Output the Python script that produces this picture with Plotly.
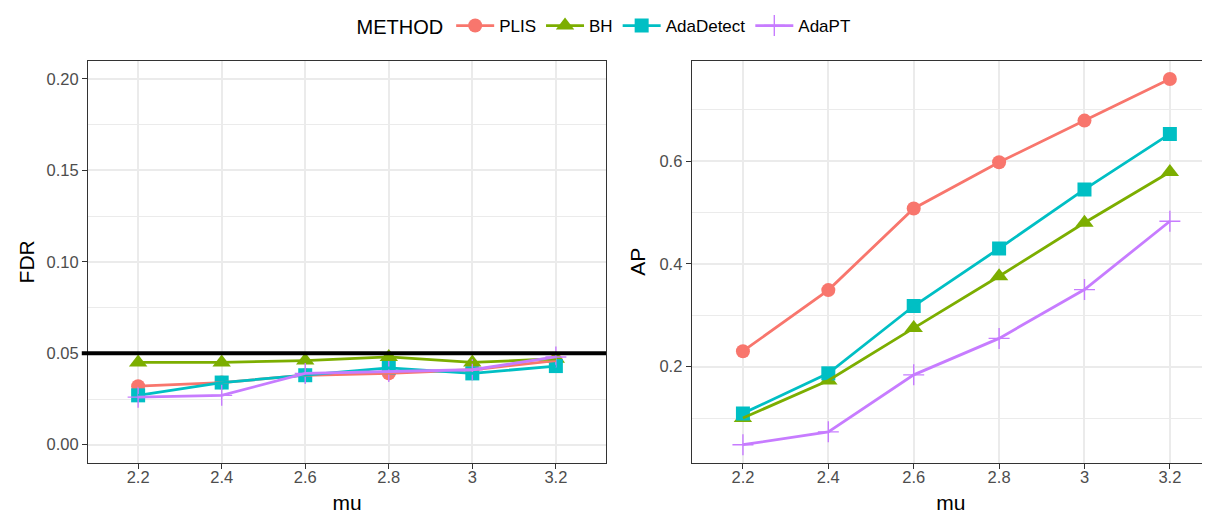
import plotly.graph_objects as go

mu = ["2.2", "2.4", "2.6", "2.8", "3", "3.2"]
methods = ["PLIS", "BH", "AdaDetect", "AdaPT"]

fdr_plis = [0.032, 0.034, 0.038, 0.039, 0.041, 0.046]
fdr_bh = [0.045, 0.045, 0.046, 0.048, 0.045, 0.047]
fdr_adadetect = [0.027, 0.034, 0.038, 0.042, 0.039, 0.043]
fdr_adapt = [0.026, 0.027, 0.039, 0.040, 0.041, 0.048]

ap_plis = [0.230, 0.349, 0.508, 0.598, 0.679, 0.760]
ap_bh = [0.100, 0.173, 0.275, 0.376, 0.480, 0.579]
ap_adadetect = [0.109, 0.187, 0.318, 0.430, 0.545, 0.653]
ap_adapt = [0.048, 0.073, 0.184, 0.255, 0.350, 0.483]

fdr_target = 0.05
fdr_ticks = [0.0, 0.05, 0.10, 0.15, 0.20]
fdr_minor = [0.025, 0.075, 0.125, 0.175]
ap_ticks = [0.2, 0.4, 0.6]
ap_minor = [0.1, 0.3, 0.5, 0.7]

colors = {"PLIS": "#F8766D", "BH": "#7CAE00", "AdaDetect": "#00BFC4", "AdaPT": "#C77CFF"}
symbols = {"PLIS": "circle", "BH": "triangle-up", "AdaDetect": "square", "AdaPT": "cross-thin-open"}
sizes = {"PLIS": 14, "BH": 16, "AdaDetect": 14, "AdaPT": 15}

fdr = {"PLIS": fdr_plis, "BH": fdr_bh, "AdaDetect": fdr_adadetect, "AdaPT": fdr_adapt}
ap = {"PLIS": ap_plis, "BH": ap_bh, "AdaDetect": ap_adadetect, "AdaPT": ap_adapt}

FONT = "Liberation Sans, Arial, sans-serif"
TICK_FONT = dict(family=FONT, size=16.5, color="#4D4D4D")
TITLE_FONT = dict(family=FONT, size=21, color="#000000")


def marker(m):
    return dict(symbol=symbols[m], size=sizes[m], color=colors[m],
                line=dict(color=colors[m], width=1.4 if m == "AdaPT" else 0))


fig = go.Figure()

for data, xa, ya in [(fdr, "x", "y"), (ap, "x2", "y2")]:
    # points first, then lines (lines drawn over points)
    for m in methods:
        fig.add_trace(go.Scatter(x=mu, y=data[m], mode="markers", marker=marker(m),
                                 xaxis=xa, yaxis=ya, showlegend=False, hoverinfo="skip"))
    for m in methods:
        fig.add_trace(go.Scatter(x=mu, y=data[m], mode="lines",
                                 line=dict(color=colors[m], width=2.8),
                                 xaxis=xa, yaxis=ya, showlegend=False, name=m))

# legend entries
for m in methods:
    fig.add_trace(go.Scatter(x=[None], y=[None], mode="lines+markers", name=m,
                             marker=marker(m), line=dict(color=colors[m], width=2.8),
                             xaxis="x", yaxis="y", showlegend=True))

# y ranges with ggplot-like 5% expansion
fdr_lo, fdr_hi = min(fdr_ticks), max(fdr_ticks)
fdr_pad = 0.05 * (fdr_hi - fdr_lo)
all_ap = ap_plis + ap_bh + ap_adadetect + ap_adapt
ap_lo, ap_hi = min(all_ap), max(all_ap)
ap_pad = 0.05 * (ap_hi - ap_lo)

W, H = 1210, 513
OFF = 8  # page body margin offset
y_dom = [(H - (463 - OFF)) / H, (H - (60.7 - OFF)) / H]

axis_common = dict(
    showline=True, linecolor="#333333", linewidth=1.1,
    ticks="outside", ticklen=5, tickcolor="#333333", tickwidth=1.1,
    tickfont=TICK_FONT, showgrid=True, gridcolor="#EBEBEB", gridwidth=1.5,
    zeroline=False,
)
minor_common = dict(showgrid=True, gridcolor="#EBEBEB", gridwidth=0.8, ticks="")

fig.update_layout(
    width=W, height=H, autosize=False,
    margin=dict(l=0, r=0, t=0, b=0),
    paper_bgcolor="white", plot_bgcolor="white",
    font=dict(family=FONT),
    xaxis=dict(axis_common, domain=[(88 - OFF) / W, (606 - OFF) / W], type="category",
               range=[-0.6, 5.6], mirror=True, anchor="y", ticklabelstandoff=-6,
               title=dict(text="mu", font=TITLE_FONT, standoff=10)),
    yaxis=dict(axis_common, domain=y_dom, range=[fdr_lo - fdr_pad, fdr_hi + fdr_pad],
               tickvals=fdr_ticks, tickformat=".2f", mirror=True, anchor="x",
               minor=dict(minor_common, tickvals=fdr_minor),
               title=dict(text="FDR", font=TITLE_FONT, standoff=6)),
    xaxis2=dict(axis_common, domain=[(691.7 - OFF) / W, (1210 - OFF) / W], type="category",
                range=[-0.6, 5.47], mirror=True, anchor="y2", ticklabelstandoff=-6,
                title=dict(text="mu", font=TITLE_FONT, standoff=10)),
    yaxis2=dict(axis_common, domain=y_dom, range=[ap_lo - ap_pad, ap_hi + ap_pad],
                tickvals=ap_ticks, tickformat=".1f", mirror=False, anchor="x2",
                minor=dict(minor_common, tickvals=ap_minor),
                title=dict(text="AP", font=TITLE_FONT, standoff=8)),
    legend=dict(orientation="h", x=(605 - OFF) / W, xanchor="center",
                y=1.0, yanchor="top", itemwidth=38,
                title=dict(text="METHOD", font=dict(family=FONT, size=20, color="#000000")),
                font=dict(family=FONT, size=17, color="#000000"),
                bgcolor="rgba(0,0,0,0)"),
    shapes=[dict(type="line", xref="x domain", yref="y", x0=-0.012, x1=1.0,
                 y0=fdr_target, y1=fdr_target, line=dict(color="black", width=4),
                 layer="above")],
)

fig.write_html("out.html")
